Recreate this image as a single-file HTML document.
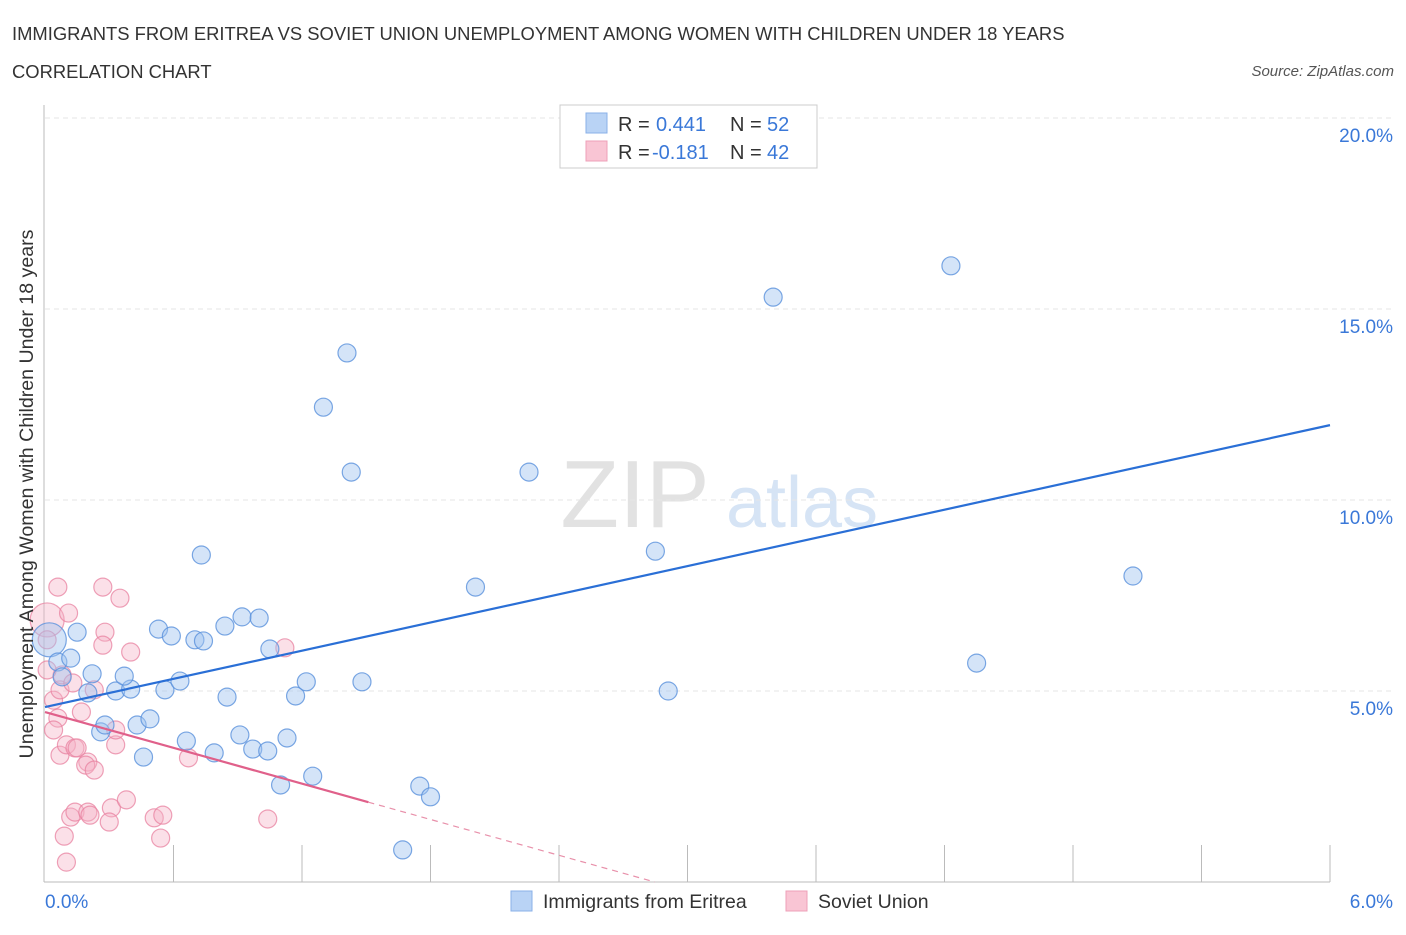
<!DOCTYPE html>
<html><head><meta charset="utf-8"><style>
body{margin:0;background:#fff;font-family:"Liberation Sans",sans-serif;}
svg text{font-family:"Liberation Sans",sans-serif;}
</style></head><body>
<svg id="chart" width="1406" height="930" xmlns="http://www.w3.org/2000/svg">
<text x="12" y="40" font-size="18.4" fill="#333">IMMIGRANTS FROM ERITREA VS SOVIET UNION UNEMPLOYMENT AMONG WOMEN WITH CHILDREN UNDER 18 YEARS</text>
<text x="12" y="78" font-size="18.4" fill="#333">CORRELATION CHART</text>
<text x="1394" y="76" font-size="15" font-style="italic" fill="#555" text-anchor="end">Source: ZipAtlas.com</text>
<g>
<text x="635" y="527" font-size="96" font-family="Liberation Serif,serif" fill="#e2e2e2" text-anchor="middle">ZIP</text>
<text x="802" y="527" font-size="72" fill="#d6e4f5" text-anchor="middle">atlas</text>
</g>
<g id="grid"></g>
<line x1="44" y1="105" x2="44" y2="882" stroke="#bbb"/>
<line x1="44" y1="882" x2="1330" y2="882" stroke="#bbb"/>
<g id="ticks"></g>
<g id="pts"></g>
<g id="lines"></g>
<text transform="translate(33,494) rotate(-90)" font-size="19.6" fill="#333" text-anchor="middle">Unemployment Among Women with Children Under 18 years</text>
<text x="45" y="908" font-size="19" fill="#3a78d8">0.0%</text>
<text x="1393" y="908" font-size="19" fill="#3a78d8" text-anchor="end">6.0%</text>
<g>
<rect x="560" y="105" width="257" height="63" fill="#fff" stroke="#ccc"/>
<rect x="586" y="113" width="21" height="20" fill="#b9d3f5" stroke="#8ab0e8"/>
<rect x="586" y="141" width="21" height="20" fill="#f9c5d4" stroke="#eea0b8"/>
<text x="618" y="131" font-size="20" fill="#333">R = </text><text x="656" y="131" font-size="20" fill="#3a78d8">0.441</text>
<text x="730" y="131" font-size="20" fill="#333">N = </text><text x="767" y="131" font-size="20" fill="#3a78d8">52</text>
<text x="618" y="159" font-size="20" fill="#333">R = </text><text x="652" y="159" font-size="20" fill="#3a78d8">-0.181</text>
<text x="730" y="159" font-size="20" fill="#333">N = </text><text x="767" y="159" font-size="20" fill="#3a78d8">42</text>
</g>
<g>
<rect x="511" y="891" width="21" height="20" fill="#b9d3f5" stroke="#8ab0e8"/>
<text x="543" y="908" font-size="19.5" fill="#333">Immigrants from Eritrea</text></g>
<g>
<rect x="786" y="891" width="21" height="20" fill="#f9c5d4" stroke="#eea0b8"/>
<text x="818" y="908" font-size="19.5" fill="#333">Soviet Union</text></g>
</svg>
<script>
const yTicks=[5,10,15,20];
const yTickLabels=["5.0%","10.0%","15.0%","20.0%"];
const xTicks=[0.6,1.2,1.8,2.4,3.0,3.6,4.2,4.8,5.4,6.0];
const blueX=[0.02,0.06,0.12,0.08,0.15,0.22,0.20,0.33,0.40,0.26,0.28,0.37,0.43,0.46,0.49,0.53,0.56,0.59,0.63,0.66,0.70,0.74,0.73,0.79,0.84,0.85,0.91,0.92,0.97,1.00,1.04,1.05,1.10,1.13,1.17,1.22,1.25,1.30,1.41,1.43,1.48,1.67,1.75,1.80,2.01,2.26,2.85,2.91,3.40,4.23,4.35,5.08];
const blueY=[6.34,5.76,5.86,5.37,6.54,5.45,4.95,5.00,5.05,3.93,4.11,5.39,4.11,3.27,4.27,6.62,5.03,6.44,5.26,3.69,6.34,6.31,8.56,3.38,6.70,4.84,3.85,6.94,3.48,6.91,3.43,6.10,2.54,3.77,4.87,5.24,2.77,12.43,13.85,10.73,5.24,0.84,2.51,2.23,7.72,10.73,8.66,5.00,15.31,16.13,5.73,8.01];
const pinkX=[0.01,0.06,0.01,0.04,0.07,0.08,0.11,0.13,0.06,0.04,0.07,0.10,0.14,0.17,0.20,0.19,0.23,0.27,0.28,0.27,0.33,0.31,0.35,0.38,0.40,0.12,0.14,0.20,0.21,0.30,0.51,0.55,0.54,0.09,0.10,0.67,1.04,1.12,0.33,0.23,0.01,0.15];
const pinkY=[6.86,7.72,6.34,4.76,5.03,5.42,7.04,5.21,4.29,3.98,3.32,3.59,3.51,4.45,3.14,3.06,5.03,7.72,6.54,6.20,3.59,1.94,7.43,2.15,6.02,1.70,1.83,1.83,1.75,1.57,1.68,1.75,1.15,1.20,0.52,3.25,1.65,6.13,3.98,2.93,5.55,3.51];
const blueTrend=[4.58,11.96];
const pinkTrend=[4.45,2.09];
const pinkSolidEnd=1.51;
const sx=v=>45+v/6*1285;
const sy=v=>882-v*38.2;
const NS="http://www.w3.org/2000/svg";
function mk(tag,attrs,parent){const e=document.createElementNS(NS,tag);for(const k in attrs)e.setAttribute(k,attrs[k]);document.getElementById(parent).appendChild(e);return e;}
yTicks.forEach((t,i)=>{
 const l=mk('line',{x1:45,x2:1394,y1:sy(t),y2:sy(t),stroke:'#e6e6e6','stroke-dasharray':'5,4'},'grid');
 
 
 const tx=mk('text',{x:1393,y:sy(t)+24,'font-size':19,fill:'#3a78d8','text-anchor':'end'},'grid');
 tx.textContent=yTickLabels[i];
 
 
});
xTicks.forEach(t=>{
 const l=mk('line',{x1:sx(t),x2:sx(t),y1:845,y2:882,stroke:'#bbb'},'ticks');
 
 
});
function pts(X,Y,fill,stroke,name){
 X.forEach((x,i)=>{
  const big=(i===0);
  const c=mk('circle',{cx:sx(X[i]),cy:sy(Y[i]),r:big?17:9,fill:fill,stroke:stroke,'stroke-width':1.2},'pts');
  
  
 });
}
pts(pinkX,pinkY,'rgba(246,178,198,0.4)','rgba(232,130,160,0.75)','soviet-union-point');
pts(blueX,blueY,'rgba(160,196,240,0.45)','rgba(90,145,220,0.8)','eritrea-point');
const bl=mk('line',{x1:sx(0),y1:sy(blueTrend[0]),x2:sx(6),y2:sy(blueTrend[1]),stroke:'#2a6fd6','stroke-width':2.2},'lines');


const slope=(pinkTrend[1]-pinkTrend[0])/pinkSolidEnd;
const zeroX=-pinkTrend[0]/slope;
const pl=mk('line',{x1:sx(0),y1:sy(pinkTrend[0]),x2:sx(pinkSolidEnd),y2:sy(pinkTrend[1]),stroke:'#e0608a','stroke-width':2.2},'lines');


const pd=mk('line',{x1:sx(pinkSolidEnd),y1:sy(pinkTrend[1]),x2:sx(zeroX),y2:sy(0),stroke:'#e890aa','stroke-width':1.2,'stroke-dasharray':'6,5'},'lines');


</script>
</body></html>
